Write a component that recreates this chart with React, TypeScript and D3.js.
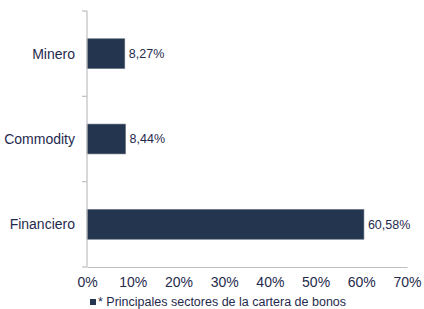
import React, { useEffect, useRef } from 'react';
import * as d3 from 'd3';

// sectors, top to bottom
const sectors = ['Minero', 'Commodity', 'Financiero'];
const shares = [8.27, 8.44, 60.58];
const xTicks = [0, 10, 20, 30, 40, 50, 60, 70];
const legendText = '* Principales sectores de la cartera de bonos';

const W = 424, H = 309;
const font = '"Liberation Sans", Arial, sans-serif';
const navy = '#24364F';
const textCol = '#1F2A4D';

export default function App() {
  const ref = useRef<SVGSVGElement>(null);

  useEffect(() => {
    const svg = d3.select(ref.current);
    svg.selectAll('*').remove();

    const margin = { top: 11, left: 87, right: 17, bottom: 42 };
    const width = W - margin.left - margin.right;
    const height = H - margin.top - margin.bottom;

    const x = d3.scaleLinear().domain([0, 70]).range([0, width]);
    const y = d3.scaleBand().domain(sectors).range([0, height]).paddingInner(0.65).paddingOuter(0.325);
    const yb = d3.scaleBand().domain(sectors).range([0, height]);

    const g = svg.append('g').attr('transform', `translate(${margin.left},${margin.top})`);

    // bars
    g.selectAll('rect.bar')
      .data(sectors)
      .enter().append('rect')
      .attr('class', 'bar')
      .attr('x', 0)
      .attr('y', d => y(d)!)
      .attr('width', (d, i) => x(shares[i]))
      .attr('height', y.bandwidth())
      .attr('fill', navy)
      .attr('stroke', '#6b7586')
      .attr('stroke-width', 0.6);

    // value labels
    g.selectAll('text.val')
      .data(sectors)
      .enter().append('text')
      .attr('class', 'val')
      .attr('x', (d, i) => x(shares[i]) + 4)
      .attr('y', d => y(d)! + y.bandwidth() / 2)
      .attr('dy', '0.35em')
      .attr('font-family', font)
      .attr('font-size', 12.5)
      .attr('fill', textCol)
      .text((d, i) => shares[i].toFixed(2).replace('.', ',') + '%');

    // y axis line + band ticks
    g.append('line').attr('x1', 0).attr('x2', 0).attr('y1', 0).attr('y2', height)
      .attr('stroke', '#bfbfbf').attr('stroke-width', 1.2);
    const bounds = sectors.map(s => yb(s)!).concat([height]);
    g.selectAll('line.ytick')
      .data(bounds)
      .enter().append('line')
      .attr('class', 'ytick')
      .attr('x1', -5).attr('x2', 0)
      .attr('y1', d => d).attr('y2', d => d)
      .attr('stroke', '#bfbfbf').attr('stroke-width', 1.2);

    // category labels
    g.selectAll('text.cat')
      .data(sectors)
      .enter().append('text')
      .attr('class', 'cat')
      .attr('x', -12)
      .attr('y', d => y(d)! + y.bandwidth() / 2)
      .attr('dy', '0.35em')
      .attr('text-anchor', 'end')
      .attr('font-family', font)
      .attr('font-size', 14)
      .attr('fill', textCol)
      .text(d => d);

    // x axis
    const xAxis = g.append('g')
      .attr('transform', `translate(0,${height})`)
      .call(d3.axisBottom(x).tickValues(xTicks).tickSize(0).tickPadding(10).tickFormat(d => d + '%'));
    xAxis.select('.domain').attr('stroke', '#bfbfbf').attr('stroke-width', 1.2);
    xAxis.selectAll('text')
      .attr('font-family', font)
      .attr('font-size', 14)
      .attr('fill', textCol);

    // legend
    const leg = svg.append('g').attr('transform', `translate(90,306)`);
    leg.append('rect').attr('x', 0).attr('y', -7).attr('width', 6).attr('height', 6).attr('fill', navy);
    leg.append('text')
      .attr('x', 8).attr('y', 0)
      .attr('font-family', font)
      .attr('font-size', 12.5)
      .attr('fill', textCol)
      .text(legendText);
  }, []);

  return (
    <svg ref={ref} width={W} height={H} style={{ position: 'absolute', left: 0, top: 0 }} />
  );
}
